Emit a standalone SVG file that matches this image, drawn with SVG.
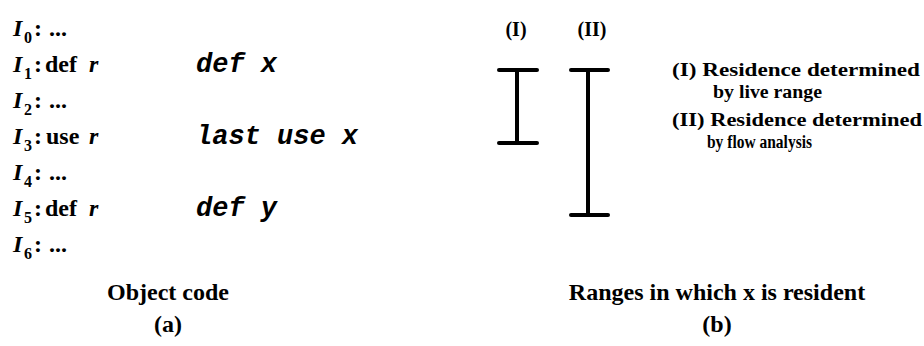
<svg xmlns="http://www.w3.org/2000/svg" width="924" height="346" viewBox="0 0 924 346">
<style>
.code{font-family:"Liberation Serif","Times New Roman",serif;font-weight:bold;font-size:24px;fill:#000}
.it{font-style:italic}
.sub{font-size:16px}
.mono{font-family:"Liberation Mono","Courier New",monospace;font-weight:bold;font-style:italic;font-size:27px;fill:#000}
.lab{font-family:"Liberation Serif","Times New Roman",serif;font-weight:bold;font-size:18px;fill:#000}
.hd{font-family:"Liberation Serif","Times New Roman",serif;font-weight:bold;font-size:20px;fill:#000}
.cap{font-family:"Liberation Serif","Times New Roman",serif;font-weight:bold;font-size:24px;fill:#000}
.beam{stroke:#000;stroke-width:4;stroke-linecap:round;fill:none}
</style>
<rect width="924" height="346" fill="#fff"/>
<g id="code">
<text class="code" y="36"><tspan class="it" x="13">I</tspan><tspan class="sub" x="24" dy="7">0</tspan><tspan x="34" dy="-7">:</tspan><tspan x="49">...</tspan></text>
<text class="code" y="72"><tspan class="it" x="13">I</tspan><tspan class="sub" x="24" dy="7">1</tspan><tspan x="34" dy="-7">:</tspan><tspan x="45">def</tspan><tspan class="it" x="89">r</tspan></text>
<text class="code" y="108"><tspan class="it" x="13">I</tspan><tspan class="sub" x="24" dy="7">2</tspan><tspan x="34" dy="-7">:</tspan><tspan x="49">...</tspan></text>
<text class="code" y="144"><tspan class="it" x="13">I</tspan><tspan class="sub" x="24" dy="7">3</tspan><tspan x="34" dy="-7">:</tspan><tspan x="46">use</tspan><tspan class="it" x="89">r</tspan></text>
<text class="code" y="180"><tspan class="it" x="13">I</tspan><tspan class="sub" x="24" dy="7">4</tspan><tspan x="34" dy="-7">:</tspan><tspan x="49">...</tspan></text>
<text class="code" y="216"><tspan class="it" x="13">I</tspan><tspan class="sub" x="24" dy="7">5</tspan><tspan x="34" dy="-7">:</tspan><tspan x="45">def</tspan><tspan class="it" x="89">r</tspan></text>
<text class="code" y="252"><tspan class="it" x="13">I</tspan><tspan class="sub" x="24" dy="7">6</tspan><tspan x="34" dy="-7">:</tspan><tspan x="49">...</tspan></text>
</g>
<g id="source">
<text class="mono" x="196" y="72">def x</text>
<text class="mono" x="196" y="144">last use x</text>
<text class="mono" x="196" y="216">def y</text>
</g>
<g id="rangeI">
<text class="hd" x="516" y="36" text-anchor="middle">(I)</text>
<line class="beam" x1="499" y1="70" x2="537" y2="70"/>
<line class="beam" x1="517" y1="70" x2="517" y2="143" stroke-width="3"/>
<line class="beam" x1="499" y1="143" x2="537" y2="143"/>
</g>
<g id="rangeII">
<text class="hd" x="592" y="36" text-anchor="middle">(II)</text>
<line class="beam" x1="571" y1="70" x2="608" y2="70"/>
<line class="beam" x1="588" y1="70" x2="588" y2="215" stroke-width="4.5"/>
<line class="beam" x1="571" y1="215" x2="608" y2="215"/>
</g>
<g id="legend">
<text class="lab" x="672" y="76" textLength="248" lengthAdjust="spacingAndGlyphs">(I) Residence determined</text>
<text class="lab" x="713" y="98" textLength="109" lengthAdjust="spacingAndGlyphs">by live range</text>
<text class="lab" x="672" y="126" textLength="250" lengthAdjust="spacingAndGlyphs">(II) Residence determined</text>
<text class="lab" x="707" y="148" textLength="105" lengthAdjust="spacingAndGlyphs">by flow analysis</text>
</g>
<g id="captions">
<text class="cap" x="168" y="300" text-anchor="middle">Object code</text>
<text class="cap" x="168" y="332" text-anchor="middle">(a)</text>
<text class="cap" x="717" y="300" text-anchor="middle">Ranges in which x is resident</text>
<text class="cap" x="717" y="332" text-anchor="middle">(b)</text>
</g>
</svg>
